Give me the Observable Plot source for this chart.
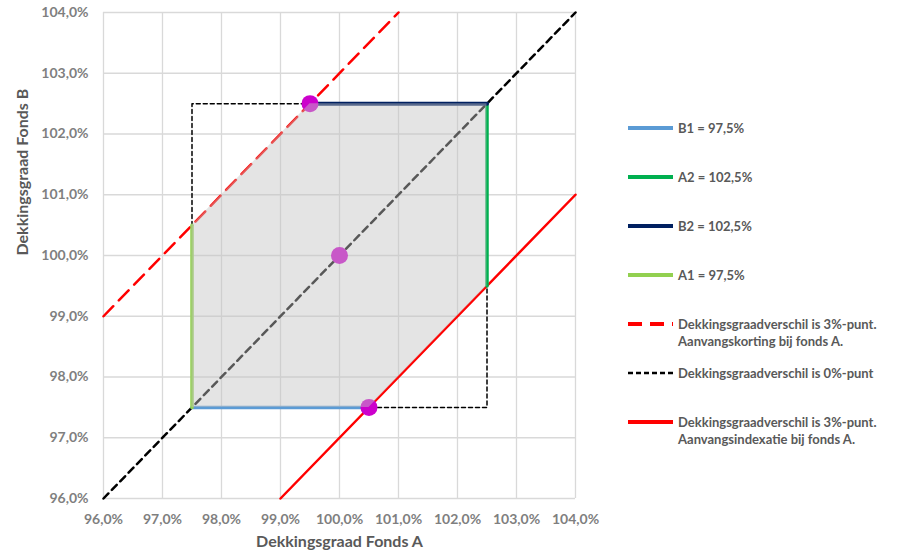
<!DOCTYPE html>
<html>
<head>
<meta charset="utf-8">
<script src="https://cdn.jsdelivr.net/npm/d3@7"></script>
<script src="https://cdn.jsdelivr.net/npm/@observablehq/plot@0.6"></script>
<style>
  html, body { margin: 0; padding: 0; background: #fff; }
  #wrap { position: relative; width: 911px; height: 555px; overflow: hidden; font-family: Lato, "Open Sans", sans-serif; }
  .leg { position: absolute; left: 628px; display: flex; align-items: flex-start; color: #595959; font-weight: bold; font-size: 13px; line-height: 17px; }
  .leg svg { flex: none; margin-top: 3px; margin-right: 5px; }
</style>
</head>
<body>
<div id="wrap"></div>
<script>
// Tick values (percent)
const ticks = [96, 97, 98, 99, 100, 101, 102, 103, 104];

// Shaded region: x with lower (y1) and upper (y2) bounds
const areaX  = [97.5, 99.5, 100.5, 102.5];
const areaY1 = [97.5, 97.5, 97.5, 99.5];
const areaY2 = [100.5, 102.5, 102.5, 102.5];

// Diagonal lines
const kortingX = [96, 101];   const kortingY = [99, 104];    // B - A = 3
const zeroX    = [96, 104];   const zeroY    = [96, 104];    // B - A = 0
const indexX   = [99, 104];   const indexY   = [96, 101];    // A - B = 3

// Dashed square
const squareX = [97.5, 97.5, 102.5, 102.5, 97.5];
const squareY = [97.5, 102.5, 102.5, 97.5, 97.5];

// Boundary segments
const b1X = [97.5, 100.5];  const b1Y = [97.5, 97.5];
const a2X = [102.5, 102.5]; const a2Y = [99.5, 102.5];
const b2X = [99.5, 102.5];  const b2Y = [102.5, 102.5];
const a1X = [97.5, 97.5];   const a1Y = [97.5, 100.5];

// Points
const ptX = [99.5, 100, 100.5];
const ptY = [102.5, 100, 97.5];

// Legend
const legendLabels = [
  "B1 = 97,5%",
  "A2 = 102,5%",
  "B2 = 102,5%",
  "A1 = 97,5%",
  "Dekkingsgraadverschil is 3%-punt.\nAanvangskorting bij fonds A.",
  "Dekkingsgraadverschil is 0%-punt",
  "Dekkingsgraadverschil is 3%-punt.\nAanvangsindexatie bij fonds A."
];
const legendColors = ["#5b9bd5", "#00b050", "#002060", "#92d050", "#ff0000", "#000000", "#ff0000"];
const legendDash = [null, null, null, null, "14,8", "5,3", null];
const legendTop = [120, 169, 218, 267, 316, 365, 414];

const pts = (xs, ys) => xs.map((x, i) => ({x, y: ys[i]}));
const fmt = d => d.toFixed(1).replace(".", ",") + "%";

const chart = Plot.plot({
  width: 911,
  height: 555,
  marginTop: 12,
  marginBottom: 57,
  marginLeft: 103,
  marginRight: 336,
  style: {fontFamily: "Lato, 'Open Sans', sans-serif", fontSize: "14px", background: "#fff"},
  x: {domain: [96, 104]},
  y: {domain: [96, 104]},
  marks: [
    Plot.gridX(ticks, {stroke: "#d9d9d9", strokeOpacity: 1, strokeWidth: 1.3}),
    Plot.gridY(ticks, {stroke: "#d9d9d9", strokeOpacity: 1, strokeWidth: 1.3}),
    Plot.axisX(ticks, {tickSize: 0, tickPadding: 16, tickFormat: fmt, fontWeight: "bold", fill: "#7f7f7f", fontSize: 14, label: null}),
    Plot.axisY(ticks, {tickSize: 0, tickPadding: 15, tickFormat: fmt, fontWeight: "bold", fill: "#7f7f7f", fontSize: 14, label: null}),
    Plot.line(pts(squareX, squareY), {x: "x", y: "y", stroke: "#000", strokeWidth: 1.5, strokeDasharray: "4,3"}),
    Plot.line(pts(zeroX, zeroY), {x: "x", y: "y", stroke: "#000", strokeWidth: 2.5, strokeDasharray: "7,5"}),
    Plot.line(pts(kortingX, kortingY), {x: "x", y: "y", stroke: "#ff0000", strokeWidth: 2.5, strokeDasharray: "14,8"}),
    Plot.line(pts(indexX, indexY), {x: "x", y: "y", stroke: "#ff0000", strokeWidth: 2.5}),
    Plot.line(pts(b1X, b1Y), {x: "x", y: "y", stroke: "#5b9bd5", strokeWidth: 3.5}),
    Plot.line(pts(a2X, a2Y), {x: "x", y: "y", stroke: "#00b050", strokeWidth: 3.5}),
    Plot.line(pts(b2X, b2Y), {x: "x", y: "y", stroke: "#002060", strokeWidth: 4}),
    Plot.line(pts(a1X, a1Y), {x: "x", y: "y", stroke: "#92d050", strokeWidth: 3.5}),
    Plot.dot(pts(ptX, ptY), {x: "x", y: "y", r: 8.5, fill: "#cc00cc", stroke: "none"}),
    Plot.areaY(areaX.map((x, i) => ({x, y1: areaY1[i], y2: areaY2[i]})), {x: "x", y1: "y1", y2: "y2", fill: "#c4c4c4", fillOpacity: 0.45, curve: "linear"}),
    Plot.text(["Dekkingsgraad Fonds A"], {frameAnchor: "bottom", dy: 48, fontWeight: "bold", fontSize: 16, fill: "#595959"}),
    Plot.text(["Dekkingsgraad Fonds B"], {frameAnchor: "left", dx: -81, rotate: -90, fontWeight: "bold", fontSize: 16, fill: "#595959"})
  ]
});

const wrap = document.getElementById("wrap");
wrap.appendChild(chart);

legendLabels.forEach((lab, i) => {
  const div = document.createElement("div");
  div.className = "leg";
  div.style.top = legendTop[i] + "px";
  const dash = legendDash[i] ? ` stroke-dasharray="${legendDash[i]}"` : "";
  div.innerHTML = `<svg width="45" height="10"><line x1="0" y1="5" x2="45" y2="5" stroke="${legendColors[i]}" stroke-width="${legendDash[i] === "5,3" ? 2.5 : 4}" stroke-linecap="${legendDash[i] ? "butt" : "round"}"${dash}/></svg><span>${lab.replace("\n", "<br>")}</span>`;
  wrap.appendChild(div);
});
</script>
</body>
</html>
